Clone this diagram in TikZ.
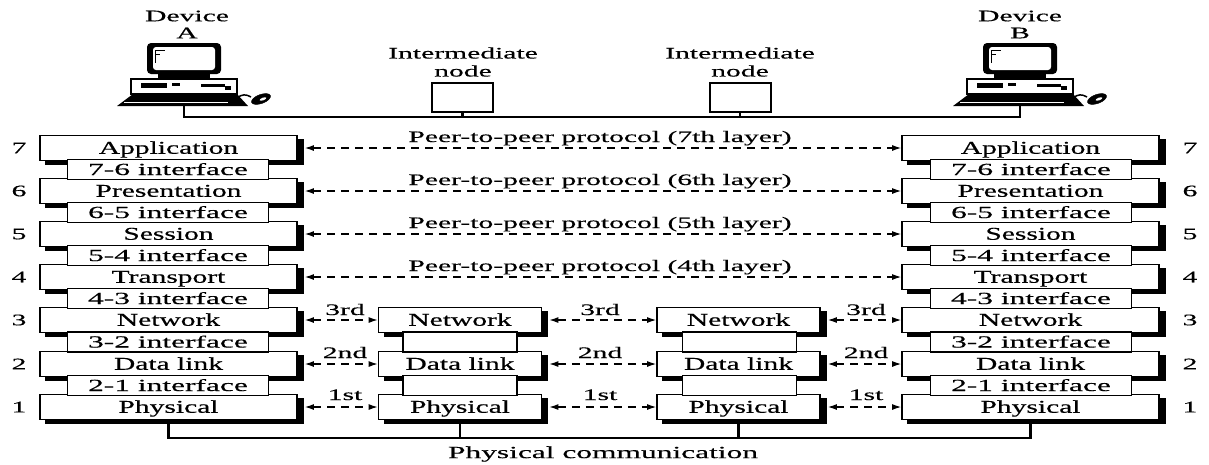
\documentclass[tikz,border=0pt]{standalone}
\usepackage{fontspec}
\setmainfont{Liberation Serif}[FakeStretch=1.85, FakeBold=0.4]
\newfontfamily\layerfont{Liberation Serif}[FakeStretch=1.64, FakeBold=0.4]
\usetikzlibrary{arrows.meta,backgrounds}

\tikzset{
  every node/.style={font=\fontsize{16}{18}\selectfont, inner sep=0pt},
  layerbox/.style={draw, line width=1.8pt, fill=white, minimum height=25pt,
    text height=11.5pt, text depth=0pt,
    font=\layerfont\fontsize{18}{20}\selectfont},
  sidebox/.style={layerbox, minimum width=257pt},
  midbox/.style={layerbox, minimum width=163pt},
  ifacebox/.style={draw, line width=1.8pt, fill=white, minimum height=20pt,
    text height=11pt, text depth=0pt,
    font=\fontsize{17}{19}\selectfont},
  sideiface/.style={ifacebox, minimum width=201pt},
  midiface/.style={ifacebox, minimum width=114pt},
  peer/.style={line width=1.1pt, dash pattern=on 8pt off 6pt,
    {Latex[length=9pt,width=6pt]}-{Latex[length=9pt,width=6pt]}},
  wire/.style={line width=2.2pt},
  boxshadow/.style={fill=black},
  nodebox/.style={draw, line width=2pt, fill=white, minimum width=61pt, minimum height=29pt},
  computer/.pic={
    % monitor
    \fill[black, rounded corners=4pt] (-37,43) rectangle (37,74);
    \fill[white, rounded corners=3pt] (-31,47) rectangle (31,70);
    \draw[line width=1pt] (-28,50) -- (-19,50) (-28,54) -- (-24,54) (-29,50) -- (-29,63);
    \fill (-26,74) rectangle (26,78);
    % system unit
    \draw[line width=2.5pt, fill=white] (-53,79) rectangle (53,94);
    \fill (-43,83) rectangle (-17,88);
    \fill (-12,83) rectangle (-4,86);
    \fill (17,84) rectangle (41,87);
    \fill (41,86) rectangle (47,90);
    % keyboard
    \fill (-51,94) -- (53,94) -- (64,106) -- (-67,106) -- cycle;
    \draw[white, line width=0.8pt] (-60,102) -- (44,102);
    % mouse and cord
    \draw[line width=1.5pt] (53,98) .. controls (58,94) and (62,94) .. (67,97);
    \filldraw[fill=black, rotate around={20:(77,99)}] (77,99) ellipse (10 and 4.5);
    \fill[white, rotate around={20:(79,99)}] (79,99) ellipse (3.5 and 1.3);
  }
}

\begin{document}
\begin{tikzpicture}[x=1pt, y=-1pt, line join=miter]
\useasboundingbox (0,0) rectangle (1209,464);

% ---- devices and intermediate nodes ----
\node (devA) at (187,16) {Device};
\node (devAn) at (187,33) {A};
\node (devB) at (1020,16) {Device};
\node (devBn) at (1020,33) {B};
\pic at (184,0) {computer};
\pic at (1020,0) {computer};
\coordinate (A0) at (184,106);
\coordinate (B0) at (1020,106);
\coordinate (Abus) at (184,117);
\coordinate (Bbus) at (1020,117);

\node (int1) at (463,53) {Intermediate};
\node (int1n) at (463,71) {node};
\node (int2) at (740,53) {Intermediate};
\node (int2n) at (740,71) {node};
\node[nodebox] (I1) at (462.5,97.5) {};
\node[nodebox] (I2) at (740,97.5) {};

\draw[wire] (A0) -- (Abus) -- (Bbus) -- (B0);
\draw[wire] (I1.south) -- (I1.south |- Abus);
\draw[wire] (I2.south) -- (I2.south |- Abus);

% ---- left stack (device A) ----
\node[sidebox] (L7) at (168.5,148) {Application};
\node[sidebox] (L6) at (168.5,191) {Presentation};
\node[sidebox] (L5) at (168.5,234) {Session};
\node[sidebox] (L4) at (168.5,277) {Transport};
\node[sidebox] (L3) at (168.5,320) {Network};
\node[sidebox] (L2) at (168.5,364) {Data link};
\node[sidebox] (L1) at (168.5,407) {Physical};
\node[sideiface] (L76) at (168,169.5) {7-6 interface};
\node[sideiface] (L65) at (168,212.5) {6-5 interface};
\node[sideiface] (L54) at (168,255.5) {5-4 interface};
\node[sideiface] (L43) at (168,298.5) {4-3 interface};
\node[sideiface] (L32) at (168,342) {3-2 interface};
\node[sideiface] (L21) at (168,385.5) {2-1 interface};

% ---- right stack (device B) ----
\node[sidebox] (R7) at (1030.5,148) {Application};
\node[sidebox] (R6) at (1030.5,191) {Presentation};
\node[sidebox] (R5) at (1030.5,234) {Session};
\node[sidebox] (R4) at (1030.5,277) {Transport};
\node[sidebox] (R3) at (1030.5,320) {Network};
\node[sidebox] (R2) at (1030.5,364) {Data link};
\node[sidebox] (R1) at (1030.5,407) {Physical};
\node[sideiface] (R76) at (1031,169.5) {7-6 interface};
\node[sideiface] (R65) at (1031,212.5) {6-5 interface};
\node[sideiface] (R54) at (1031,255.5) {5-4 interface};
\node[sideiface] (R43) at (1031,298.5) {4-3 interface};
\node[sideiface] (R32) at (1031,342) {3-2 interface};
\node[sideiface] (R21) at (1031,385.5) {2-1 interface};

% ---- intermediate stacks ----
\node[midbox] (M13) at (460,320) {Network};
\node[midbox] (M12) at (460,364) {Data link};
\node[midbox] (M11) at (460,407) {Physical};
\node[midiface] (M132) at (460,342) {};
\node[midiface] (M121) at (460,385.5) {};
\node[midbox] (M23) at (738.5,320) {Network};
\node[midbox] (M22) at (738.5,364) {Data link};
\node[midbox] (M21) at (738.5,407) {Physical};
\node[midiface] (M232) at (739.5,342) {};
\node[midiface] (M221) at (739.5,385.5) {};

% ---- drop shadows of the layer boxes ----
\begin{scope}[on background layer]
  \foreach \b in {L7,L6,L5,L4,L3,L2,L1,R7,R6,R5,R4,R3,R2,R1,M13,M12,M11,M23,M22,M21}{
    \fill[boxshadow] ([xshift=6pt,yshift=-4pt]\b.south west) rectangle ([xshift=6pt,yshift=-4pt]\b.north east);
  }
\end{scope}

% ---- layer numbers ----
\foreach \n/\y in {7/148,6/191,5/234,4/277,3/320,2/364,1/407}{
  \node (numL\n) at (19,\y) {\n};
  \node (numR\n) at (1190,\y) {\n};
}

% ---- peer-to-peer protocols ----
\draw[peer, shorten <=7pt] (L7) -- (R7);
\draw[peer, shorten <=7pt] (L6) -- (R6);
\draw[peer, shorten <=7pt] (L5) -- (R5);
\draw[peer, shorten <=7pt] (L4) -- (R4);
\node[anchor=base] (P7) at (600,142) {Peer-to-peer protocol (7th layer)};
\node[anchor=base] (P6) at (600,185) {Peer-to-peer protocol (6th layer)};
\node[anchor=base] (P5) at (600,228) {Peer-to-peer protocol (5th layer)};
\node[anchor=base] (P4) at (600,271) {Peer-to-peer protocol (4th layer)};

% ---- hop-by-hop protocols ----
\foreach \a/\b in {L/M1, M1/M2, M2/R}{
  \draw[peer, shorten <=7pt] (\a3) -- (\b3);
  \draw[peer, shorten <=7pt] (\a2) -- (\b2);
  \draw[peer, shorten <=7pt] (\a1) -- (\b1);
}
\node[anchor=base] (h3a) at (345,315) {3rd};
\node[anchor=base] (h3b) at (600,315) {3rd};
\node[anchor=base] (h3c) at (866,315) {3rd};
\node[anchor=base] (h2a) at (345,358) {2nd};
\node[anchor=base] (h2b) at (600,358) {2nd};
\node[anchor=base] (h2c) at (866,358) {2nd};
\node[anchor=base] (h1a) at (345,400) {1st};
\node[anchor=base] (h1b) at (600,400) {1st};
\node[anchor=base] (h1c) at (866,400) {1st};

% ---- physical medium ----
\coordinate (busL) at (168.5,438);
\coordinate (busR) at (1030.5,438);
\draw[wire] (L1.south) -- (busL) -- (busR) -- (R1.south);
\draw[wire] (M11.south) -- (M11.south |- busL);
\draw[wire] (M21.south) -- (M21.south |- busL);
\node[font=\fontsize{17}{19}\selectfont] (phys) at (603,454) {Physical communication};
\end{tikzpicture}
\end{document}
